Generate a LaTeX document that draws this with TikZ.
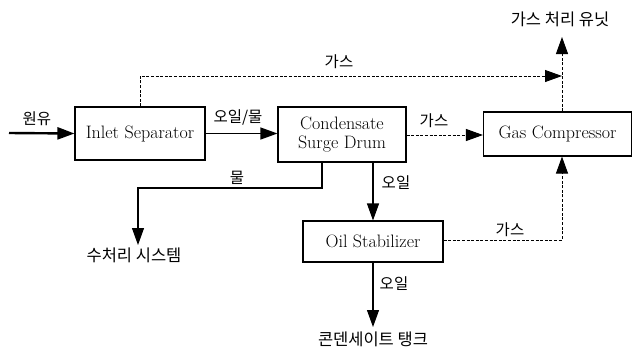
\documentclass[tikz,border=0pt]{standalone}
\usepackage{fontspec}
\newfontfamily\kr{Noto Sans CJK KR}
\usetikzlibrary{arrows.meta}
\begin{document}
\begin{tikzpicture}[x=1pt,y=-1pt,
  unit/.style={draw, line width=1.1pt, inner sep=0pt, align=center,
    font=\fontsize{18}{19.5}\selectfont\addfontfeature{FakeBold=0.4}},
  flow/.style={line width=1.1pt},
  gasflow/.style={line width=1pt, dash pattern=on 3pt off 1.6pt},
  tip/.style={-{Triangle[length=17pt,width=12pt]}},
  lbl/.style={inner sep=0pt, font=\kr\fontsize{15.5}{18}\selectfont},
  dest/.style={inner sep=0pt, font=\kr\fontsize{16.5}{19}\selectfont}]
\useasboundingbox (0,0) rectangle (633,349);

% units
\node[unit, minimum width=130pt, minimum height=53pt] (inlet) at (140,133.5) {Inlet Separator};
\node[unit, minimum width=128pt, minimum height=55pt] (surge) at (342,134.5) {Condensate\\Surge Drum};
\node[unit, minimum width=148pt, minimum height=44pt] (comp) at (557.5,134) {Gas Compressor};
\node[unit, minimum width=140pt, minimum height=41pt] (stab) at (373,241.5) {Oil Stabilizer};

% destination texts
\node[dest] (gasunit) at (560,19) {가스 처리 유닛};
\node[dest] (water) at (134,255) {수처리 시스템};
\node[dest] (tank) at (373,339) {콘덴세이트 탱크};

% helper coordinates
\coordinate (feedin) at (9,133);
\coordinate (gtop1) at (140,76);
\coordinate (gtop2) at (562,76);
\coordinate (stackTop) at (562,37);
\coordinate (w1) at (322,188);
\coordinate (w2) at (138,188);
\coordinate (wend) at (138,245);
\coordinate (o1) at (373,162);
\coordinate (sg) at (562,240);
\coordinate (tankend) at (373,327);

% crude feed
\draw[line width=2.4pt, tip] (feedin) -- (inlet.west);
\node[lbl] (lfeed) at (37,119) {원유};

% oil/water to surge drum
\draw[flow, tip] (inlet.east) -- (surge.west |- inlet.east);
\node[lbl] (low) at (238,117) {오일/물};

% gas from inlet separator
\draw[gasflow, tip] (inlet.north) -- (gtop1) -- (gtop2);
\node[lbl] (lg1) at (339,62) {가스};

% gas from compressor to gas processing unit
\draw[gasflow, tip] (comp.north -| gtop2) -- (stackTop);

% gas from surge drum to compressor
\draw[gasflow, tip] (surge.east |- 0,135) -- (comp.west |- 0,135);
\node[lbl] (lg2) at (434,121) {가스};

% water
\draw[flow, tip] (surge.south -| w1) -- (w1) -- (w2) -- (wend);
\node[lbl] (lw) at (237,178) {물};

% oil to stabilizer
\draw[flow, tip] (o1) -- (stab.north);
\node[lbl] (lo1) at (396,183) {오일};

% gas from stabilizer to compressor
\draw[gasflow, tip] (stab.east |- sg) -- (sg) -- (comp.south -| sg);
\node[lbl] (lg3) at (510,230) {가스};

% oil to condensate tank
\draw[flow, tip] (stab.south) -- (tankend);
\node[lbl] (lo2) at (394,284) {오일};
\end{tikzpicture}
\end{document}
